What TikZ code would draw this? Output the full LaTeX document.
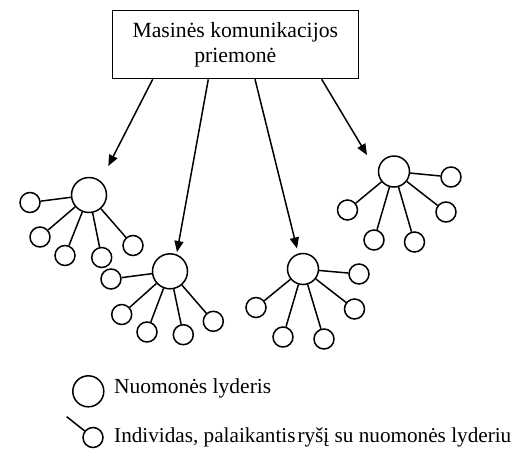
\documentclass[tikz,border=0pt]{standalone}
\usepackage{fontspec}
\setmainfont{Liberation Serif}
\usetikzlibrary{arrows.meta}
\begin{document}
\begin{tikzpicture}[x=1pt,y=-1pt,
  txt/.style={font=\fontsize{21.5}{25.5}\selectfont, inner sep=0pt},
  mediabox/.style={draw, line width=1.5pt, align=center, inner sep=0pt,
    minimum width=246pt, minimum height=68pt, font=\fontsize{21.7}{25.5}\selectfont},
  leader/.style={circle, draw, line width=1.5pt, minimum size=35pt, inner sep=0pt},
  leadersm/.style={leader, minimum size=31pt},
  member/.style={circle, draw, line width=1.5pt, minimum size=20pt, inner sep=0pt},
  tie/.style={line width=1.5pt},
  feed/.style={line width=1.5pt, -{Triangle[length=11pt,width=9pt]}}
]
\useasboundingbox (0,0) rectangle (525,448);

% source of the mass media
\node[mediabox] (media) at (235.3,44.6) {Masinės komunikacijos\\priemonė};

% opinion leaders
\node[leader]   (L1) at (89,195)   {};
\node[leader]   (L2) at (170,271.3) {};
\node[leadersm] (L3) at (303,269)  {};
\node[leadersm] (L4) at (394,171.5) {};

% their followers
\foreach \n/\x/\y in {a/30/202.5, b/40/237, c/65/255.5, d/101.7/257.5, e/133/245.5}
  \node[member] (L1\n) at (\x,\y) {};
\foreach \n/\x/\y in {a/111/279, b/121.7/314.5, c/147/332, d/183.3/334.7, e/213.3/321.3}
  \node[member] (L2\n) at (\x,\y) {};
\foreach \n/\x/\y in {a/256/307.5, b/283/337, c/324/339, d/354.5/309, e/359/274}
  \node[member] (L3\n) at (\x,\y) {};
\foreach \n/\x/\y in {a/347.5/210, b/374/240, c/414.5/242, d/446/212, e/451/177}
  \node[member] (L4\n) at (\x,\y) {};

\foreach \g in {1,2,3,4}
  \foreach \n in {a,b,c,d,e}
    \draw[tie] (L\g) -- (L\g\n);

% messages from the media
\coordinate (s1) at (152.7,79.3);
\coordinate (s2) at (208.3,79.3);
\coordinate (s3) at (255,79.3);
\coordinate (s4) at (321.7,79.3);
\coordinate (t1) at (108.3,166);
\coordinate (t2) at (177,252);
\coordinate (t3) at (297,248.5);
\coordinate (t4) at (367,155);
\draw[feed] (s1) -- (t1);
\draw[feed] (s2) -- (t2);
\draw[feed] (s3) -- (t3);
\draw[feed] (s4) -- (t4);

% legend
\node[leadersm] (keyL) at (88.3,391.3) {};
\node[txt, anchor=base west] (keyLtxt) at (114,393.3) {Nuomonės lyderis};
\node[member] (keyM) at (93,437.5) {};
\coordinate (keyMtie) at (66.7,416.7);
\draw[tie] (keyMtie) -- (keyM);
\node[txt, font=\fontsize{21.2}{25.5}\selectfont, anchor=base west] (keyMtxt) at (114,442.8)
  {Individas, palaikantis\hspace{2pt}ryšį su nuomonės lyderiu};
\end{tikzpicture}
\end{document}
